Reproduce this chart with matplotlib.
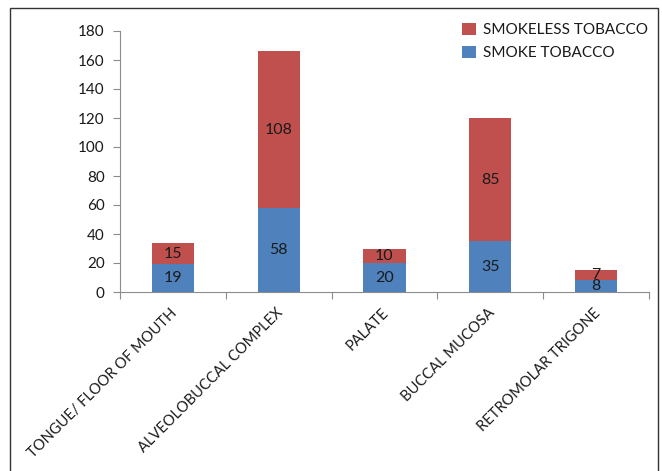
import numpy as np
import matplotlib.pyplot as plt
from matplotlib.patches import Rectangle

plt.rcParams['font.family'] = ['Lato', 'DejaVu Sans']

categories = ['TONGUE/ FLOOR OF MOUTH', 'ALVEOLOBUCCAL COMPLEX', 'PALATE',
              'BUCCAL MUCOSA', 'RETROMOLAR TRIGONE']
smoke = [19, 58, 20, 35, 8]
smokeless = [15, 108, 10, 85, 7]

blue = '#4F81BD'
red = '#C0504D'
axis_gray = '#8C8C8C'
text_col = '#1a1a1a'

fig = plt.figure(figsize=(6.62, 4.71), dpi=100)
ax = fig.add_axes([120 / 662, 1 - 292 / 471, (649 - 120) / 662, (292 - 31) / 471])

x = np.arange(len(categories))
b1 = ax.bar(x, smoke, width=0.4, color=blue, label='SMOKE TOBACCO', zorder=2)
b2 = ax.bar(x, smokeless, width=0.4, bottom=smoke, color=red,
            label='SMOKELESS TOBACCO', zorder=2)

for i in range(len(categories)):
    ax.text(x[i], smoke[i] / 2, str(smoke[i]), ha='center', va='center',
            fontsize=11.5, color=text_col, zorder=3)
    ax.text(x[i], smoke[i] + smokeless[i] / 2, str(smokeless[i]), ha='center',
            va='center', fontsize=11.5, color=text_col, zorder=3)

ax.set_xlim(-0.5, len(categories) - 0.5)
ax.set_ylim(0, 180)
ax.set_yticks(np.arange(0, 181, 20))
ax.tick_params(axis='y', labelsize=11, length=5, color=axis_gray, pad=6,
               labelcolor=text_col)

# ticks sit on the category boundaries
ax.set_xticks(np.arange(-0.5, len(categories)))
ax.set_xticklabels([])
ax.tick_params(axis='x', length=5, color=axis_gray)
for i, c in enumerate(categories):
    ax.text(x[i] + 0.02, -13, c, rotation=45, rotation_mode='anchor',
            ha='right', va='center', fontsize=10.5, color=text_col)

for s in ['top', 'right']:
    ax.spines[s].set_visible(False)
for s in ['left', 'bottom']:
    ax.spines[s].set_color(axis_gray)

handles = [b2, b1]
fig.legend(handles, [h.get_label() for h in handles], loc='upper left',
           bbox_to_anchor=(448 / 662, 1 - 9 / 471), frameon=False,
           fontsize=11, handlelength=0.92, handleheight=0.85,
           handletextpad=0.5, labelspacing=0.55, labelcolor=text_col)

fig.patches.append(Rectangle((10 / 662, -0.01), (658 - 10) / 662, 1 - 8 / 471 + 0.01,
                             transform=fig.transFigure, fill=False,
                             edgecolor='#333333', linewidth=1.0))

fig.savefig('out.png', dpi=100)
